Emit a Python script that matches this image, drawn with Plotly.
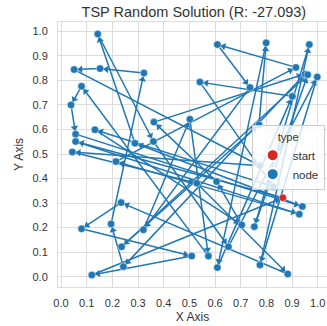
import math
import plotly.graph_objects as go

# Node coordinates (index 0 is the start node)
node_x = [0.864, 0.143, 0.609, 0.799, 0.967, 0.915, 0.950, 0.961, 0.998, 0.541,
          0.736, 0.901, 0.771, 0.502, 0.362, 0.360, 0.288, 0.323, 0.152, 0.051,
          0.080, 0.039, 0.132, 0.057, 0.057, 0.044, 0.214, 0.234, 0.195, 0.080,
          0.321, 0.236, 0.243, 0.120, 0.509, 0.574, 0.652, 0.609, 0.775, 0.883,
          0.704, 0.753, 0.928, 0.940, 0.529, 0.606, 0.827, 0.775]
node_y = [0.322, 0.989, 0.946, 0.953, 0.946, 0.853, 0.826, 0.823, 0.814, 0.793,
          0.771, 0.735, 0.619, 0.642, 0.630, 0.551, 0.544, 0.830, 0.848, 0.844,
          0.776, 0.700, 0.599, 0.581, 0.551, 0.508, 0.469, 0.302, 0.215, 0.195,
          0.191, 0.122, 0.041, 0.007, 0.084, 0.084, 0.122, 0.037, 0.048, 0.011,
          0.211, 0.204, 0.255, 0.286, 0.381, 0.388, 0.367, 0.452]

# Visiting order of the random tour
tour = [0, 24, 42, 26, 5, 2, 10, 30, 13, 35, 20, 21, 23, 43, 16, 1, 15, 36,
        8, 38, 4, 41, 7, 31, 12, 3, 37, 11, 9, 46, 22, 40, 45, 14, 6, 32, 28,
        17, 18, 19, 47, 25, 44, 39, 27, 29, 34, 33, 0]

reward = -27.093
title_text = f"TSP Random Solution (R: {reward:.3f})"
x_ticks = [round(0.1 * i, 1) for i in range(11)]
y_ticks = [round(0.1 * i, 1) for i in range(11)]

BLUE = "#1f77b4"
RED = "#d62728"
GRID = "#dcdcdc"
TEXT = "#333333"
FONT = "Liberation Sans, Arial"

W, H = 327, 326
M_L, M_R, M_T, M_B = 58, 0, 22, 39
X_RANGE = [-0.0117, 1.036]
Y_RANGE = [-0.042, 1.038]

# pixels per data unit, used to orient the arrowheads on screen
sx = (W - M_L - M_R) / (X_RANGE[1] - X_RANGE[0])
sy = (H - M_T - M_B) / (Y_RANGE[1] - Y_RANGE[0])
HEAD_BACK = 6.5  # arrowhead centre distance from the target node, px

line_x, line_y = [], []
head_x, head_y, head_angle = [], [], []
for a, b in zip(tour[:-1], tour[1:]):
    x0, y0, x1, y1 = node_x[a], node_y[a], node_x[b], node_y[b]
    line_x += [x0, x1, None]
    line_y += [y0, y1, None]
    dx, dy = (x1 - x0) * sx, (y1 - y0) * sy
    length = math.hypot(dx, dy)
    head_x.append(x1 - HEAD_BACK * dx / length / sx)
    head_y.append(y1 - HEAD_BACK * dy / length / sy)
    head_angle.append(math.degrees(math.atan2(dx, dy)))

fig = go.Figure()

fig.add_trace(go.Scatter(
    x=line_x, y=line_y, mode="lines", showlegend=False, hoverinfo="skip",
    line=dict(color=BLUE, width=1.5),
))
fig.add_trace(go.Scatter(
    x=head_x, y=head_y, mode="markers", showlegend=False, hoverinfo="skip",
    marker=dict(symbol="triangle-up", size=6.5, angle=head_angle, color=BLUE,
                line=dict(width=0)),
))
fig.add_trace(go.Scatter(
    x=node_x[:1], y=node_y[:1], mode="markers", name="start",
    marker=dict(color=RED, size=7.5, line=dict(color="white", width=0.5)),
))
fig.add_trace(go.Scatter(
    x=node_x[1:], y=node_y[1:], mode="markers", name="node",
    marker=dict(color=BLUE, size=7.5, line=dict(color="white", width=0.5)),
))

axis_common = dict(
    showgrid=True, gridcolor=GRID, gridwidth=1,
    showline=True, linecolor=GRID, linewidth=1, mirror=True,
    zeroline=False, ticks="",
    tickfont=dict(family=FONT, size=11, color=TEXT),
)

fig.update_xaxes(
    range=X_RANGE, tickvals=x_ticks, ticktext=[f"{v:.1f}" for v in x_ticks],
    title=dict(text="X Axis", font=dict(family=FONT, size=12, color=TEXT), standoff=4),
    ticklabelstandoff=6, **axis_common,
)
fig.update_yaxes(
    range=Y_RANGE, tickvals=y_ticks, ticktext=[f"{v:.1f}" for v in y_ticks],
    title=dict(text="Y Axis", font=dict(family=FONT, size=12, color=TEXT), standoff=6),
    ticklabelstandoff=7, **axis_common,
)

fig.update_layout(
    width=W, height=H,
    margin=dict(l=M_L, r=M_R, t=M_T, b=M_B, pad=0),
    paper_bgcolor="white", plot_bgcolor="white",
    font=dict(family=FONT, color=TEXT),
    title=dict(
        text=title_text, x=0.593, xanchor="center", xref="container",
        y=0.963, yanchor="middle", yref="container",
        font=dict(family=FONT, size=14.5, color=TEXT),
    ),
    showlegend=True,
    legend=dict(
        x=0.72, y=0.61, xanchor="left", yanchor="top",
        bgcolor="rgba(255,255,255,0.8)", bordercolor="#cccccc", borderwidth=1,
        title=dict(text="type", side="top center",
                   font=dict(family=FONT, size=11, color=TEXT)),
        font=dict(family=FONT, size=11.5, color=TEXT),
        itemsizing="constant", entrywidth=72, entrywidthmode="pixels",
    ),
)

fig.write_html("out.html")
